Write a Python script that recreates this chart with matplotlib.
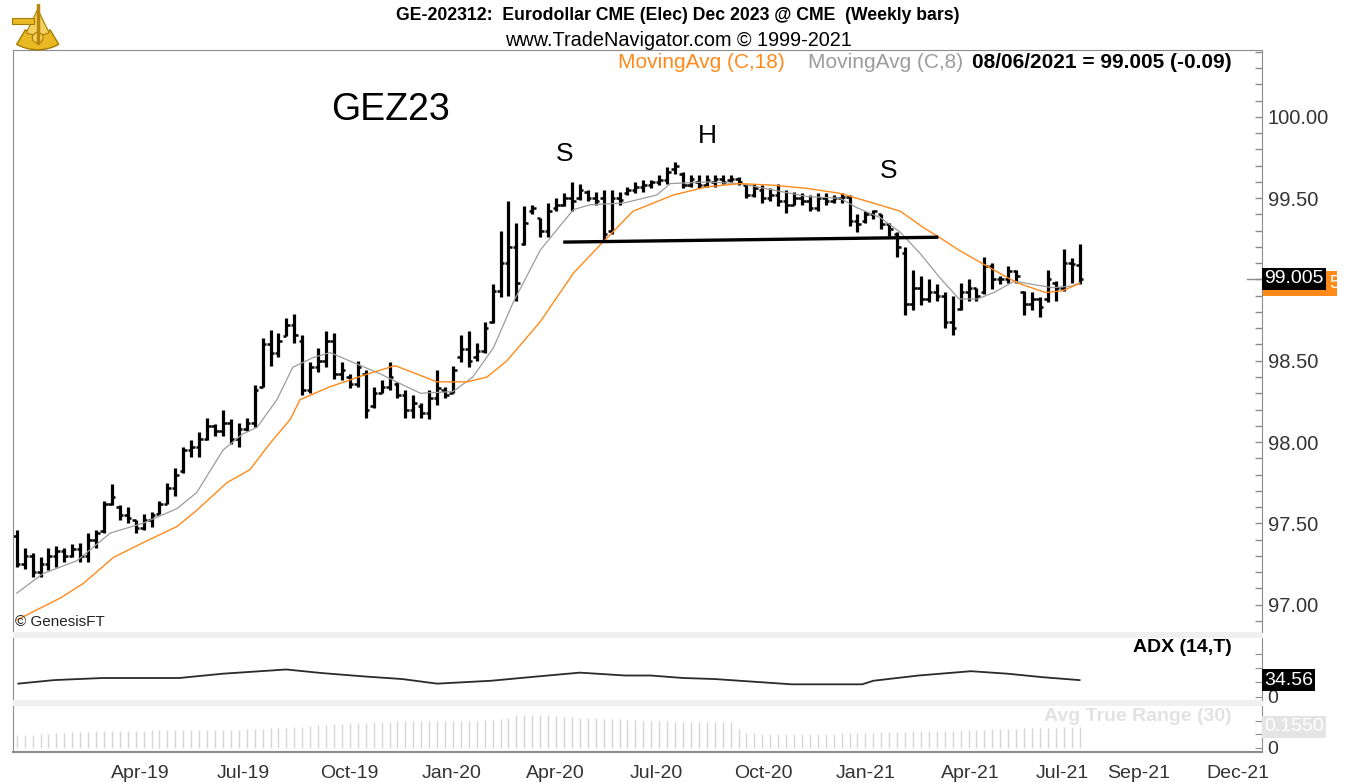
import matplotlib
matplotlib.use("Agg")
import matplotlib.pyplot as plt
from matplotlib.patches import Rectangle, Wedge, Circle
from matplotlib.ticker import MultipleLocator, FixedLocator, FixedFormatter
import matplotlib.transforms as mtransforms

W, H = 1349, 782
plt.rcParams['font.family'] = ['Liberation Sans', 'DejaVu Sans']

# weekly bars, GEZ23, Dec 2018 .. 08/06/2021
highs = [97.46, 97.35, 97.32, 97.29, 97.35, 97.36, 97.35, 97.37, 97.38, 97.44,
         97.46, 97.64, 97.74, 97.61, 97.60, 97.52, 97.56, 97.57, 97.64, 97.75,
         97.84, 97.97, 98.01, 98.06, 98.15, 98.11, 98.20, 98.14, 98.12, 98.15,
         98.35, 98.64, 98.69, 98.67, 98.76, 98.79, 98.66, 98.49, 98.58, 98.68,
         98.67, 98.49, 98.42, 98.50, 98.44, 98.34, 98.38, 98.49, 98.37, 98.32,
         98.29, 98.24, 98.32, 98.44, 98.34, 98.47, 98.66, 98.68, 98.61, 98.74,
         98.97, 99.30, 99.48, 99.35, 99.45, 99.46, 99.38, 99.47, 99.50, 99.53,
         99.60, 99.59, 99.55, 99.54, 99.55, 99.55, 99.54, 99.57, 99.60, 99.61,
         99.61, 99.64, 99.69, 99.72, 99.66, 99.64, 99.64, 99.64, 99.64, 99.64,
         99.64, 99.63, 99.59, 99.59, 99.58, 99.56, 99.59, 99.55, 99.54, 99.53,
         99.52, 99.53, 99.53, 99.52, 99.53, 99.52, 99.40, 99.42, 99.43, 99.40,
         99.35, 99.29, 99.20, 99.06, 99.02, 99.00, 98.97, 98.92, 98.90, 98.98,
         99.00, 98.95, 99.14, 99.10, 99.02, 99.08, 99.06, 98.93, 98.92, 98.89,
         99.06, 98.99, 99.19, 99.13, 99.22]
lows = [97.23, 97.22, 97.17, 97.17, 97.21, 97.23, 97.26, 97.29, 97.26, 97.26,
        97.35, 97.44, 97.61, 97.52, 97.50, 97.44, 97.46, 97.48, 97.56, 97.62,
        97.67, 97.81, 97.91, 97.91, 98.01, 98.04, 98.04, 97.99, 97.97, 98.07,
        98.09, 98.34, 98.47, 98.52, 98.65, 98.61, 98.29, 98.30, 98.43, 98.46,
        98.39, 98.38, 98.33, 98.34, 98.15, 98.21, 98.30, 98.32, 98.27, 98.15,
        98.15, 98.15, 98.14, 98.23, 98.27, 98.30, 98.49, 98.46, 98.50, 98.55,
        98.73, 98.89, 98.90, 98.87, 99.21, 99.40, 99.26, 99.26, 99.42, 99.45,
        99.42, 99.49, 99.48, 99.46, 99.24, 99.28, 99.46, 99.52, 99.53, 99.54,
        99.56, 99.58, 99.59, 99.65, 99.56, 99.57, 99.56, 99.57, 99.57, 99.59,
        99.60, 99.58, 99.50, 99.51, 99.47, 99.48, 99.45, 99.41, 99.46, 99.46,
        99.42, 99.42, 99.46, 99.47, 99.47, 99.33, 99.29, 99.35, 99.37, 99.31,
        99.27, 99.14, 98.78, 98.81, 98.84, 98.86, 98.87, 98.70, 98.66, 98.81,
        98.87, 98.87, 98.91, 98.94, 98.97, 98.98, 98.98, 98.78, 98.81, 98.77,
        98.86, 98.87, 98.93, 98.98, 98.97]
opens = [97.42, 97.25, 97.30, 97.20, 97.25, 97.30, 97.33, 97.30, 97.34, 97.30,
         97.40, 97.45, 97.62, 97.60, 97.55, 97.52, 97.47, 97.52, 97.56, 97.62,
         97.72, 97.82, 97.95, 97.97, 98.02, 98.10, 98.07, 98.12, 98.02, 98.08,
         98.12, 98.34, 98.60, 98.55, 98.65, 98.72, 98.62, 98.32, 98.46, 98.50,
         98.62, 98.42, 98.40, 98.36, 98.42, 98.22, 98.30, 98.34, 98.36, 98.29,
         98.20, 98.22, 98.18, 98.27, 98.32, 98.30, 98.52, 98.57, 98.52, 98.56,
         98.74, 98.93, 99.10, 99.20, 99.22, 99.42, 99.38, 99.30, 99.44, 99.46,
         99.50, 99.50, 99.54, 99.50, 99.50, 99.30, 99.50, 99.53, 99.55, 99.57,
         99.58, 99.60, 99.61, 99.68, 99.65, 99.58, 99.60, 99.58, 99.60, 99.62,
         99.61, 99.62, 99.58, 99.52, 99.55, 99.50, 99.52, 99.48, 99.46, 99.50,
         99.48, 99.44, 99.50, 99.48, 99.50, 99.51, 99.36, 99.36, 99.40, 99.40,
         99.34, 99.28, 99.16, 98.85, 98.95, 98.88, 98.92, 98.90, 98.74, 98.82,
         98.92, 98.95, 98.92, 99.08, 99.00, 99.00, 99.05, 98.92, 98.85, 98.88,
         98.88, 98.98, 98.95, 99.10, 99.09]
closes = [97.25, 97.30, 97.20, 97.25, 97.30, 97.33, 97.30, 97.34, 97.30, 97.40,
          97.44, 97.62, 97.66, 97.55, 97.53, 97.47, 97.52, 97.55, 97.62, 97.72,
          97.80, 97.95, 97.97, 98.02, 98.10, 98.07, 98.12, 98.02, 98.08, 98.12,
          98.32, 98.60, 98.55, 98.62, 98.72, 98.66, 98.32, 98.46, 98.50, 98.62,
          98.42, 98.44, 98.36, 98.46, 98.20, 98.30, 98.34, 98.40, 98.29, 98.20,
          98.24, 98.18, 98.27, 98.33, 98.29, 98.44, 98.57, 98.50, 98.56, 98.70,
          98.93, 99.10, 99.20, 98.98, 99.35, 99.44, 99.30, 99.42, 99.46, 99.50,
          99.48, 99.55, 99.50, 99.48, 99.28, 99.50, 99.49, 99.55, 99.57, 99.58,
          99.60, 99.61, 99.66, 99.70, 99.58, 99.62, 99.58, 99.61, 99.62, 99.60,
          99.62, 99.60, 99.52, 99.56, 99.50, 99.52, 99.48, 99.46, 99.50, 99.48,
          99.44, 99.50, 99.48, 99.50, 99.51, 99.36, 99.34, 99.40, 99.42, 99.34,
          99.31, 99.20, 98.85, 98.95, 98.88, 98.92, 98.90, 98.74, 98.70, 98.92,
          98.95, 98.90, 99.08, 99.00, 99.00, 99.05, 99.02, 98.85, 98.88, 98.83,
          99.00, 98.95, 99.10, 99.095, 99.005]

# MovingAvg (C,18) and (C,8)
ma18_week = [0, 5.5, 8.4, 12.2, 15.9, 20.2, 22.7, 26.5, 29.4, 31.9, 34.5, 35.7,
             39.5, 43.7, 47.7, 53.0, 56.8, 59.3, 61.8, 66.0, 70.2, 73.9, 77.7,
             82.8, 87.0, 91.2, 95.4, 99.7, 103.8, 108.0, 111.4, 114.3, 116.3,
             118.8, 122.4, 126.1, 129.7, 131.8, 134]
ma18 = [96.905, 97.04, 97.13, 97.29, 97.38, 97.48, 97.58, 97.75, 97.83, 97.99,
        98.14, 98.26, 98.34, 98.41, 98.47, 98.37, 98.37, 98.40, 98.50, 98.74,
        99.04, 99.23, 99.42, 99.52, 99.57, 99.59, 99.58, 99.56, 99.53, 99.47,
        99.42, 99.32, 99.26, 99.18, 99.08, 98.98, 98.92, 98.93, 98.9755]
ma8_week = [0, 3.3, 7.6, 11.8, 15.9, 20.2, 22.7, 26.0, 28.5, 30.3, 32.8, 34.8,
            37.4, 39.5, 42.4, 45.8, 48.3, 50.9, 55.0, 57.5, 60.1, 62.6, 66.0,
            68.5, 70.2, 72.3, 76.5, 80.7, 82.4, 87.0, 91.2, 95.4, 99.7, 103.8,
            106.0, 108.9, 111.4, 113.9, 116.4, 118.8, 121.1, 123.2, 125.8,
            128.0, 130.6, 133.1, 134]
ma8 = [97.07, 97.19, 97.27, 97.44, 97.50, 97.59, 97.69, 97.95, 98.05, 98.09,
       98.26, 98.46, 98.52, 98.55, 98.49, 98.42, 98.36, 98.30, 98.31, 98.40,
       98.58, 98.86, 99.18, 99.33, 99.43, 99.46, 99.47, 99.52, 99.59, 99.60,
       99.59, 99.55, 99.51, 99.50, 99.44, 99.38, 99.29, 99.16, 99.01, 98.88,
       98.88, 98.92, 98.99, 98.97, 98.95, 98.96, 98.98]

# head & shoulders neckline
neck_week = [68.9, 116.2]
neck = [99.23, 99.26]

# ADX (14,T)
adx_week = [0.2, 4.7, 10.9, 20.5, 26.0, 34.0, 38.4, 44.0, 48.6, 53.0, 59.8,
            65.5, 71.0, 76.7, 79.9, 84.0, 88.0, 97.7, 106.6, 108.0, 113.7,
            120.3, 124.9, 129.4, 134]
adx = [27.2, 34.6, 39.0, 39.0, 48.0, 56.8, 49.4, 42.0, 36.8, 27.2, 33.2,
       42.0, 50.2, 44.2, 44.2, 39.0, 36.8, 25.8, 25.8, 33.2, 44.2,
       53.2, 48.0, 40.6, 34.56]

# Avg True Range (30), one value per bar
atr = [0.092, 0.095, 0.098, 0.101, 0.104, 0.108, 0.113, 0.115, 0.117, 0.120,
       0.122, 0.125, 0.127, 0.127, 0.128, 0.128, 0.128, 0.129, 0.129, 0.129,
       0.130, 0.130, 0.130, 0.131, 0.132, 0.133, 0.134, 0.135, 0.136, 0.137,
       0.139, 0.141, 0.144, 0.147, 0.150, 0.153, 0.157, 0.162, 0.166, 0.170,
       0.174, 0.178, 0.181, 0.183, 0.186, 0.189, 0.192, 0.194, 0.196, 0.197,
       0.197, 0.197, 0.196, 0.197, 0.198, 0.197, 0.198, 0.198, 0.200, 0.205,
       0.210, 0.215, 0.222, 0.247, 0.245, 0.244, 0.242, 0.240, 0.236, 0.232,
       0.226, 0.222, 0.220, 0.218, 0.215, 0.213, 0.212, 0.210, 0.205, 0.200,
       0.197, 0.197, 0.196, 0.195, 0.195, 0.194, 0.193, 0.193, 0.192, 0.192,
       0.190, 0.141, 0.108, 0.107, 0.106, 0.106, 0.105, 0.105, 0.105, 0.104,
       0.104, 0.105, 0.106, 0.106, 0.107, 0.108, 0.110, 0.112, 0.114, 0.116,
       0.118, 0.120, 0.121, 0.122, 0.123, 0.124, 0.126, 0.127, 0.128, 0.130,
       0.132, 0.134, 0.136, 0.138, 0.139, 0.141, 0.142, 0.144, 0.145, 0.147,
       0.148, 0.150, 0.152, 0.153, 0.155]

month_week = [15.6, 28.5, 41.9, 54.8, 67.9, 80.6, 94.1, 107.0, 120.2, 131.8, 141.5, 154.0]
month_labels = ['Apr-19', 'Jul-19', 'Oct-19', 'Jan-20', 'Apr-20', 'Jul-20',
                'Oct-20', 'Jan-21', 'Apr-21', 'Jul-21', 'Sep-21', 'Dec-21']
price_ticks = [97.0, 97.5, 98.0, 98.5, 99.5, 100.0]

orange = '#ff8a1a'
grey_ma = '#9c9c9c'
frame = '#8c8c8c'


def fx(x):
    return x / W


def fy(y):
    return 1 - y / H


fig = plt.figure(figsize=(W / 100, H / 100), dpi=100)
left, right = 13, 1262
ax = fig.add_axes([fx(left), fy(632), fx(right) - fx(left), fy(50) - fy(632)])
ax_adx = fig.add_axes([fx(left), fy(700), fx(right) - fx(left), fy(638) - fy(700)])
ax_atr = fig.add_axes([fx(left), fy(752), fx(right) - fx(left), fy(706) - fy(752)])

weeks = list(range(len(closes)))
xlim = (-0.47, 157.0)

# price bars
ax.vlines(weeks, lows, highs, color='black', lw=2.3)
ax.hlines(opens, [w - 0.45 for w in weeks], weeks, color='black', lw=1.8)
ax.hlines(closes, weeks, [w + 0.45 for w in weeks], color='black', lw=1.8)
ax.plot(ma8_week, ma8, color=grey_ma, lw=0.9, zorder=3)
ax.plot(ma18_week, ma18, color=orange, lw=1.0, zorder=3)
ax.plot(neck_week, neck, color='black', lw=2.4, solid_capstyle='butt', zorder=4)

ax.set_xlim(*xlim)
ax.set_ylim(96.831, 100.412)
ax.yaxis.tick_right()
ax.yaxis.set_major_locator(FixedLocator(price_ticks))
ax.yaxis.set_major_formatter(FixedFormatter(['%.2f' % t for t in price_ticks]))
ax.yaxis.set_minor_locator(MultipleLocator(0.1))
ax.tick_params(axis='y', which='both', direction='in', length=5, width=1,
               color=frame, labelsize=14.5, labelcolor='#333333', pad=4)
ax.tick_params(axis='x', bottom=False, labelbottom=False)
for s in ['left', 'top', 'right']:
    ax.spines[s].set_color(frame)
ax.spines['bottom'].set_visible(False)

ax.text(47.1, 100.04, 'GEZ23', fontsize=27, ha='center', va='center')
ax.text(69.1, 99.77, 'S', fontsize=19, ha='center', va='center')
ax.text(87.1, 99.88, 'H', fontsize=19, ha='center', va='center')
ax.text(109.9, 99.67, 'S', fontsize=19, ha='center', va='center')
ax.text(0.002, 0.018, '© GenesisFT', transform=ax.transAxes, fontsize=11,
        ha='left', va='center', color='#222222')

# current price / MA boxes on the right axis
tr = mtransforms.blended_transform_factory(ax.transAxes, ax.transData)
ax.add_patch(Rectangle((1.0008, ma18[-1] - 0.075), 0.0595, 0.15, transform=tr,
                       fc=orange, ec='none', clip_on=False, zorder=10))
ax.text(1.0535, ma18[-1], '5', transform=tr, ha='left', va='center',
        fontsize=14, color='white', clip_on=False, zorder=12)
ax.annotate('99.005', xy=(1.0, closes[-1]), xycoords=('axes fraction', 'data'),
            xytext=(1.8, 0), textcoords='offset points', ha='left', va='center',
            fontsize=14, color='white', annotation_clip=False, zorder=11,
            bbox=dict(boxstyle='square,pad=0.12', fc='black', ec='none'))
ax.plot([0.988, 1.0], [closes[-1]] * 2, color=frame, lw=1, transform=tr,
        clip_on=False)

# ADX panel
ax_adx.plot(adx_week, adx, color='#2a2a2a', lw=1.3)
ax_adx.set_xlim(*xlim)
ax_adx.set_ylim(-7, 122.6)
ax_adx.yaxis.tick_right()
ax_adx.set_yticks([0, 30, 60, 90], ['0', '', '', ''])
ax_adx.tick_params(axis='y', direction='in', length=5, color=frame,
                   labelsize=14, labelcolor='#333333', pad=4)
ax_adx.tick_params(axis='x', bottom=False, labelbottom=False)
for s in ['left', 'right']:
    ax_adx.spines[s].set_color(frame)
for s in ['top', 'bottom']:
    ax_adx.spines[s].set_visible(False)
ax_adx.text(0.976, 0.84, 'ADX (14,T)', transform=ax_adx.transAxes, ha='right',
            va='center', fontsize=14, fontweight='bold')
ax_adx.annotate('34.56', xy=(1.0, adx[-1]), xycoords=('axes fraction', 'data'),
                xytext=(1.5, 0), textcoords='offset points', ha='left', va='center',
                fontsize=14, color='white', annotation_clip=False, zorder=10,
                bbox=dict(boxstyle='square,pad=0.12', fc='black', ec='none'))

# ATR panel
ax_atr.vlines(weeks, 0, atr, color='#d6d6d6', lw=1.0)
ax_atr.set_xlim(*xlim)
ax_atr.set_ylim(-0.03, 0.31)
ax_atr.yaxis.tick_right()
ax_atr.set_yticks([0, 0.1, 0.2], ['0', '', ''])
ax_atr.tick_params(axis='y', direction='in', length=5, color=frame,
                   labelsize=14, labelcolor='#333333', pad=4)
ax_atr.set_xticks(month_week, month_labels)
ax_atr.tick_params(axis='x', length=0, pad=9, labelsize=14, labelcolor='#333333')
for s in ['left', 'right']:
    ax_atr.spines[s].set_color(frame)
ax_atr.spines['top'].set_visible(False)
ax_atr.spines['bottom'].set_color(frame)
ax_atr.spines['bottom'].set_linestyle((0, (3, 1)))
ax_atr.spines['bottom'].set_linewidth(1.5)
ax_atr.text(0.976, 0.78, 'Avg True Range (30)', transform=ax_atr.transAxes,
            ha='right', va='center', fontsize=14, fontweight='bold', color='#e2e2e2')
ax_atr.annotate('0.1550', xy=(1.0, atr[-1]), xycoords=('axes fraction', 'data'),
                xytext=(1.5, 0), textcoords='offset points', ha='left', va='center',
                fontsize=14, color='white', annotation_clip=False, zorder=10,
                bbox=dict(boxstyle='square,pad=0.12', fc='#e4e4e4', ec='none'))

# separator bands between panes
for y0, y1 in [(632, 638), (700, 706)]:
    fig.add_artist(Rectangle((fx(left), fy(y1)), fx(right) - fx(left), fy(y0) - fy(y1),
                             transform=fig.transFigure, fc='#f0f0f0', ec='none'))

# header
fig.text(fx(678), fy(15), 'GE-202312:  Eurodollar CME (Elec) Dec 2023 @ CME  (Weekly bars)',
         ha='center', va='center', fontsize=12.7, fontweight='bold')
fig.text(fx(678), fy(40), 'www.TradeNavigator.com © 1999-2021', ha='center',
         va='center', fontsize=14.3)
fig.text(fx(785), fy(62), 'MovingAvg (C,18)', ha='right', va='center',
         fontsize=15, color=orange)
fig.text(fx(963), fy(62), 'MovingAvg (C,8)', ha='right', va='center',
         fontsize=15, color=grey_ma)
fig.text(fx(1232), fy(62), '08/06/2021 = 99.005 (-0.09)', ha='right', va='center',
         fontsize=15, fontweight='bold')

# small gold logo
lax = fig.add_axes([fx(8), fy(56), 54 / W, 52 / H])
lax.set_xlim(0, 1)
lax.set_ylim(0, 1)
lax.axis('off')
lax.add_patch(Wedge((0.55, 0.9), 0.78, 240, 300, width=0.32, fc='#e8b923', ec='#a67c00', lw=1))
lax.add_patch(Wedge((0.55, 0.9), 0.5, 245, 295, fc='#f3d060', ec='#a67c00', lw=0.8))
lax.plot([0.55, 0.55], [0.25, 1.0], color='#b8860b', lw=2.5)
lax.add_patch(Rectangle((0.08, 0.62), 0.4, 0.12, fc='#e8b923', ec='#a67c00', lw=0.8))
lax.add_patch(Circle((0.55, 0.35), 0.1, fc='#f3d060', ec='#a67c00', lw=0.8))

fig.savefig('out.png', dpi=100)
